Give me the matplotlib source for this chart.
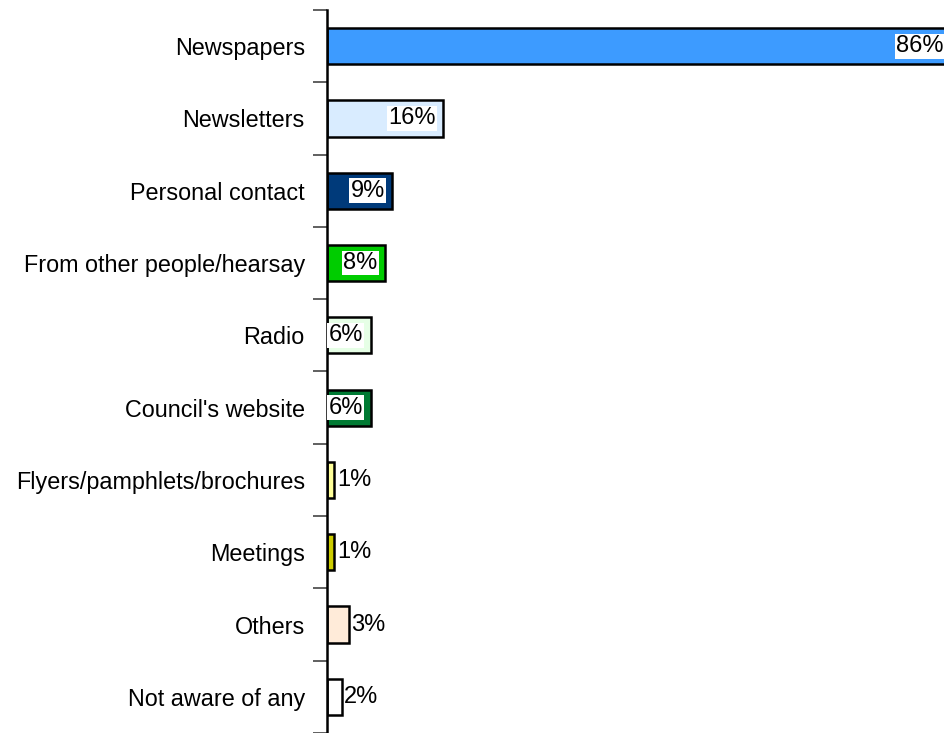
import numpy as np
import matplotlib.pyplot as plt

categories = ['Newspapers', 'Newsletters', 'Personal contact',
              'From other people/hearsay', 'Radio', "Council's website",
              'Flyers/pamphlets/brochures', 'Meetings', 'Others',
              'Not aware of any']
values = [86, 16, 9, 8, 6, 6, 1, 1, 3, 2]
colors = ['#3d9bff', '#d9ecff', '#003a7a', '#00cc00', '#e6ffe6',
          '#007a33', '#ffff99', '#cccc00', '#ffebd9', '#ffffff']

plt.rcParams['font.family'] = ['Liberation Sans', 'DejaVu Sans']

fig = plt.figure(figsize=(9.44, 7.33), dpi=100)
ax = fig.add_axes([327/944, 0.0, 1 - 327/944, 1 - 10/733])

y = np.arange(len(categories))
ax.barh(y, values, height=0.5, color=colors, edgecolor='black',
        linewidth=1.8)

ax.set_ylim(len(categories) - 0.5, -0.5)
ax.set_xlim(0, 85)

for yi, v in zip(y, values):
    if v >= 5:
        ax.annotate('%d%%' % v, (v, yi), xytext=(-5.5, 0),
                    textcoords='offset points', annotation_clip=False,
                    ha='right', va='center', fontsize=17,
                    bbox=dict(facecolor='white', edgecolor='none', pad=1.0))
    else:
        ax.annotate('%d%%' % v, (v, yi), xytext=(2, 0), textcoords='offset points',
                    annotation_clip=False, ha='left', va='center', fontsize=17)

for s in ['top', 'right', 'bottom']:
    ax.spines[s].set_visible(False)
ax.spines['left'].set_linewidth(1.8)
ax.set_xticks([])

# category labels on major ticks (hidden), tick marks between categories
ax.set_yticks(y)
ax.set_yticklabels(categories, fontsize=16.8)
ax.tick_params(axis='y', which='major', length=0, pad=16)
ax.set_yticks(np.arange(-0.5, len(categories) + 0.5, 1), minor=True)
ax.tick_params(axis='y', which='minor', length=10, width=1.2, color='#444444')

plt.savefig('out.png', dpi=100)
plt.close('all')
